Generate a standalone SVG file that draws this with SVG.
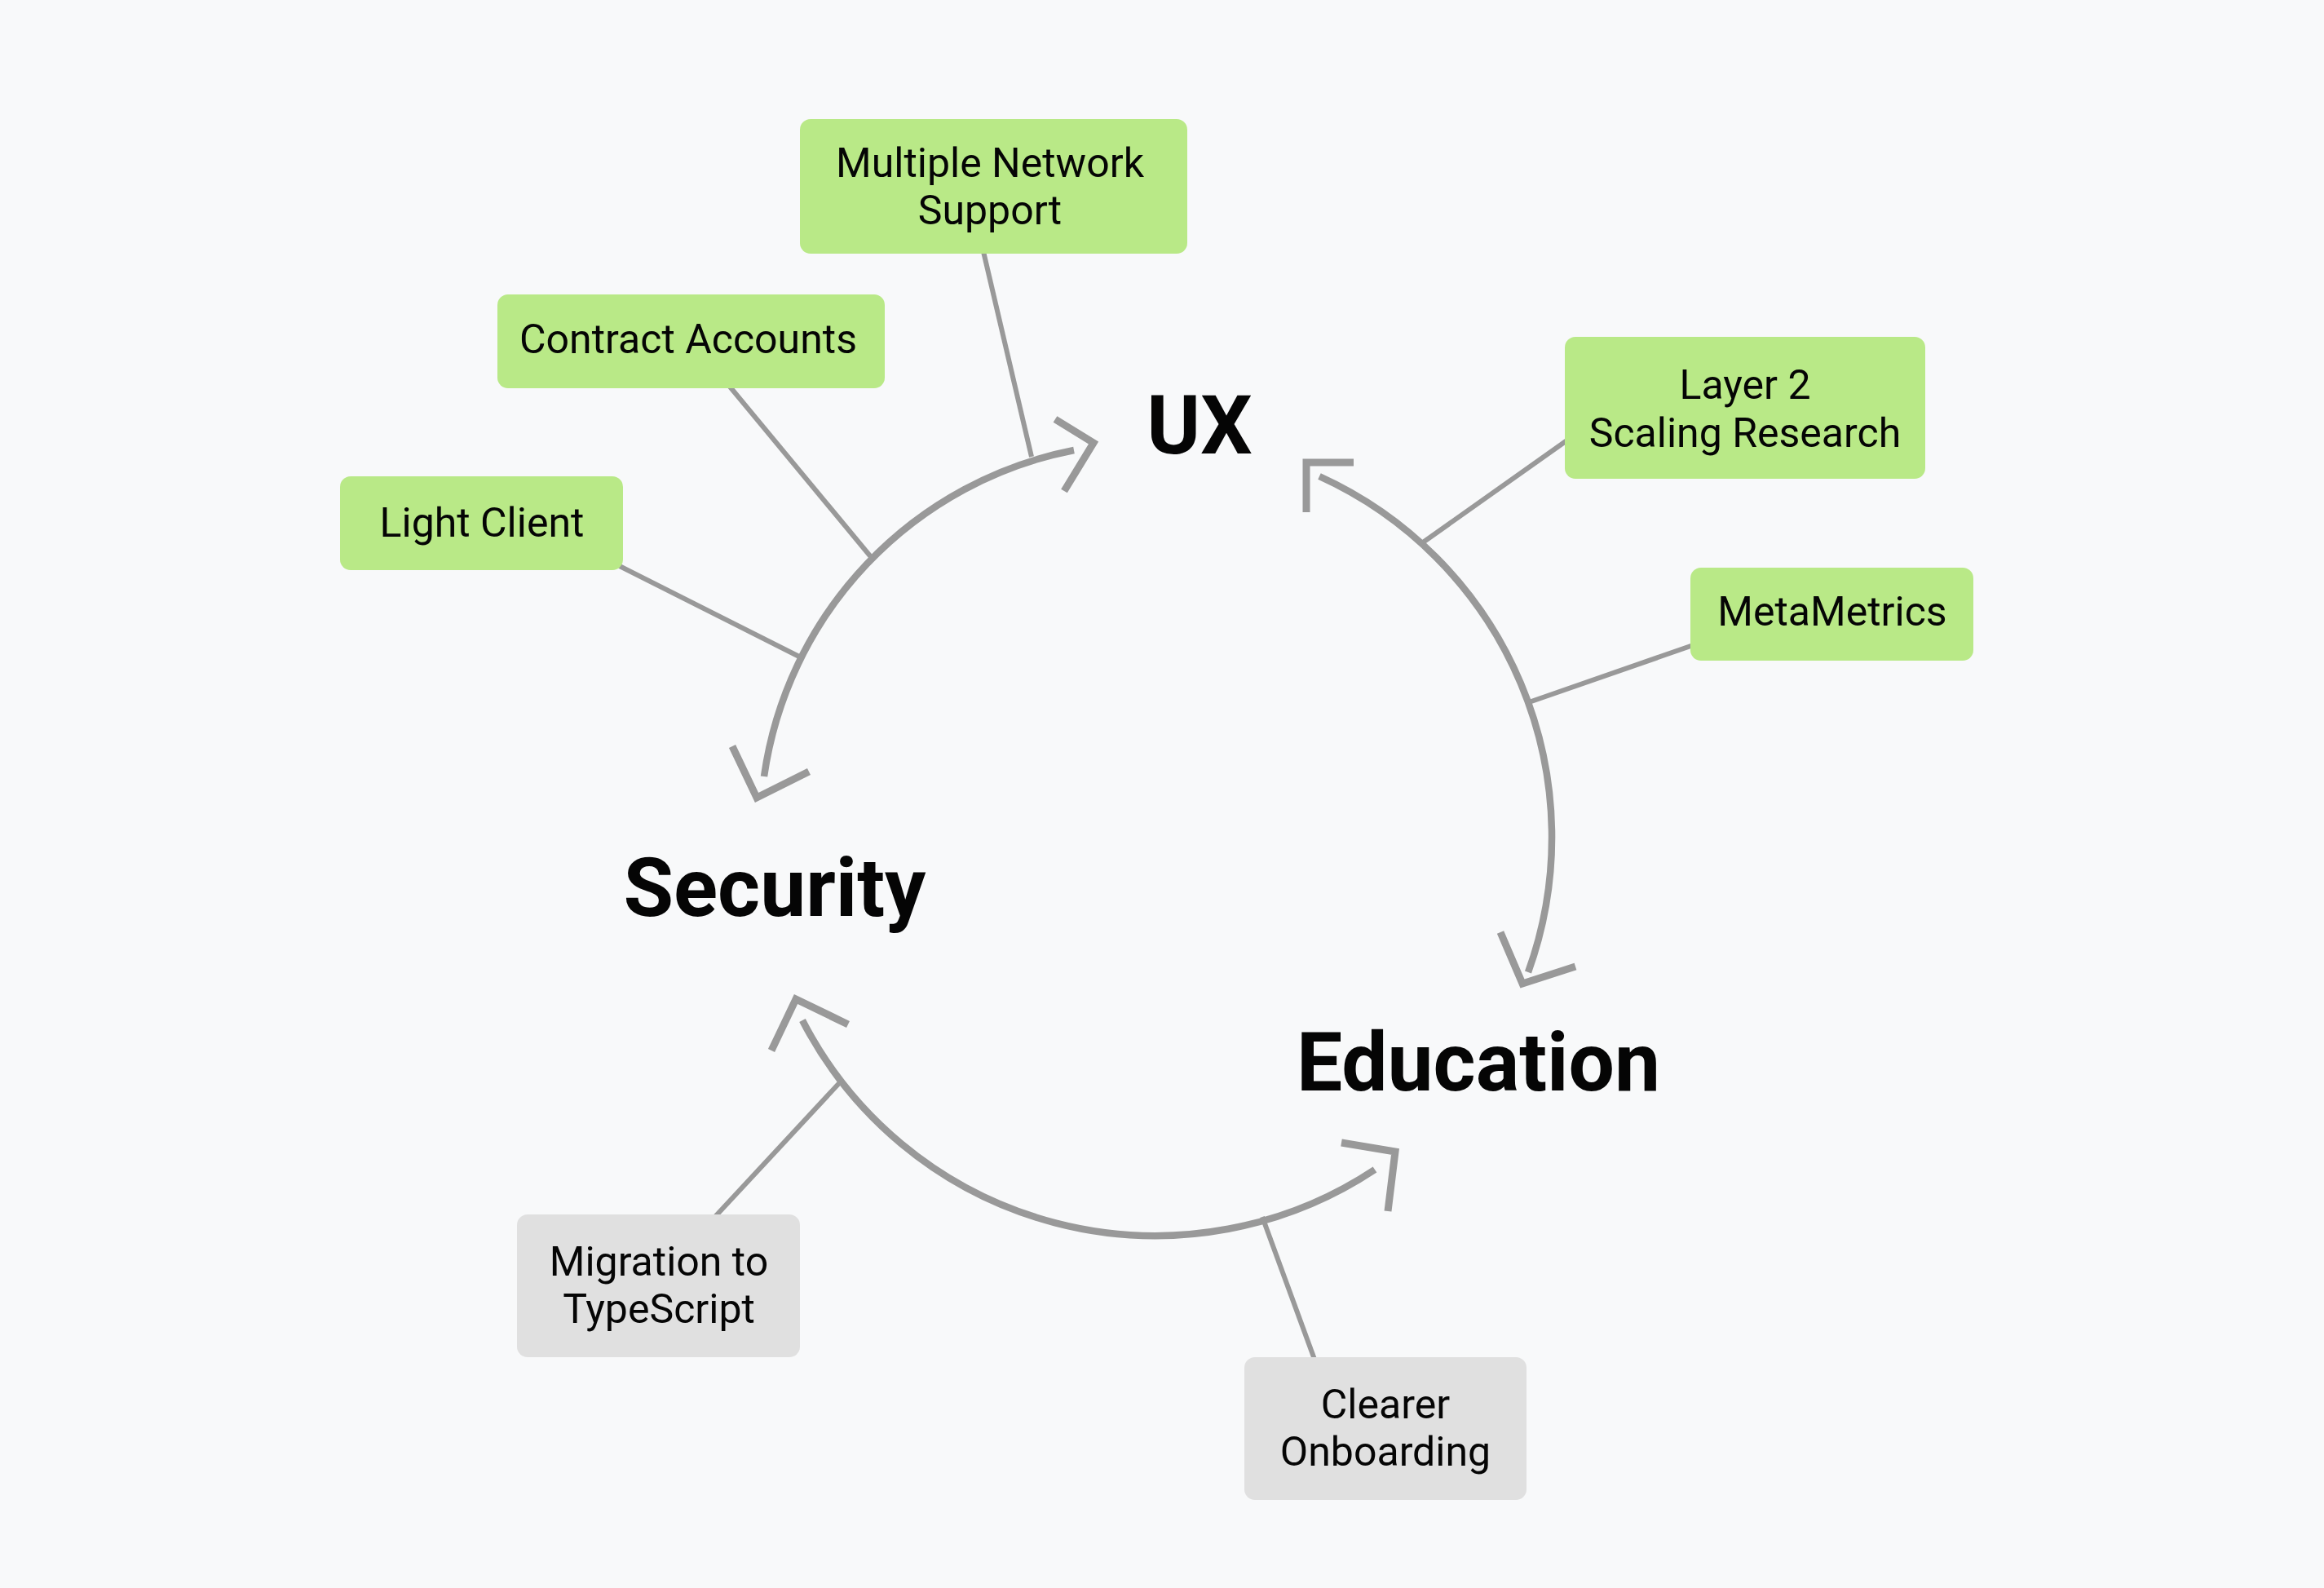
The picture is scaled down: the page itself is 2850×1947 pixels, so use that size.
<svg xmlns="http://www.w3.org/2000/svg" width="2850" height="1947" viewBox="0 0 2850 1947">
  <style>
    .bg { fill: #f8f9fa; }
    .topic rect { fill: #b9e987; }
    .todo rect { fill: #e0e0e0; }
    .node text { font-family: Roboto, "Liberation Sans", sans-serif; font-size: 50px; fill: #050505; text-anchor: middle; }
    .pillar text { font-family: Roboto, "Liberation Sans", sans-serif; font-size: 100px; font-weight: 700; fill: #050505; text-anchor: middle; }
    .cycle { fill: none; stroke: #999999; stroke-width: 8.5; }
    .head { fill: none; stroke: #999999; stroke-width: 9; stroke-linejoin: miter; stroke-linecap: butt; }
    .link { fill: none; stroke: #999999; stroke-width: 6; }
  </style>

  <rect class="bg" x="0" y="0" width="2850" height="1947"/>

  <!-- cycle arcs, branch lines and arrowheads -->
  <g id="connectors">
    <!-- Security -> UX -->
    <path class="cycle" d="M 937 952 A 476 476 0 0 1 1317 552"/>
    <polyline class="head" points="1294,514 1341,543 1305,602"/>
    <polyline class="head" points="898,915 928,978 992,946"/>

    <!-- UX -> Education -->
    <path class="cycle" d="M 1618 584 A 486 486 0 0 1 1874 1192"/>
    <polyline class="head" points="1660,567 1602,567 1602,628"/>
    <polyline class="head" points="1840,1143 1867,1206 1932,1185"/>

    <!-- Education -> Security -->
    <path class="cycle" d="M 984 1251 A 487 487 0 0 0 1686 1434"/>
    <polyline class="head" points="946,1288 976,1225 1040,1256"/>
    <polyline class="head" points="1645,1401 1711,1412 1702,1485"/>

    <!-- branch lines from the nodes to the arcs -->
    <line class="link" x1="1204" y1="300" x2="1265" y2="560"/>
    <line class="link" x1="890" y1="468" x2="1069" y2="684"/>
    <line class="link" x1="752" y1="690" x2="982" y2="806"/>
    <line class="link" x1="1930" y1="534" x2="1745" y2="665"/>
    <line class="link" x1="2085" y1="788" x2="1875" y2="861"/>
    <line class="link" x1="1031" y1="1326" x2="872" y2="1497"/>
    <line class="link" x1="1548" y1="1492" x2="1614" y2="1672"/>
  </g>

  <g id="multiple-network-support" class="node topic">
    <rect x="981" y="146" width="475" height="165" rx="13"/>
    <text x="1214" y="217">Multiple Network</text>
    <text x="1214" y="275">Support</text>
  </g>

  <g id="contract-accounts" class="node topic">
    <rect x="610" y="361" width="475" height="115" rx="13"/>
    <text x="844" y="433">Contract Accounts</text>
  </g>

  <g id="light-client" class="node topic">
    <rect x="417" y="584" width="347" height="115" rx="13"/>
    <text x="591" y="658">Light Client</text>
  </g>

  <g id="layer-2-scaling-research" class="node topic">
    <rect x="1919" y="413" width="442" height="174" rx="13"/>
    <text x="2140" y="489">Layer 2</text>
    <text x="2140" y="548">Scaling Research</text>
  </g>

  <g id="metametrics" class="node topic">
    <rect x="2073" y="696" width="347" height="114" rx="13"/>
    <text x="2247" y="767">MetaMetrics</text>
  </g>

  <g id="migration-to-typescript" class="node todo">
    <rect x="634" y="1489" width="347" height="175" rx="13"/>
    <text x="808" y="1564">Migration to</text>
    <text x="808" y="1622">TypeScript</text>
  </g>

  <g id="clearer-onboarding" class="node todo">
    <rect x="1526" y="1664" width="346" height="175" rx="13"/>
    <text x="1699" y="1739">Clearer</text>
    <text x="1699" y="1797">Onboarding</text>
  </g>

  <g id="ux" class="pillar">
    <text x="1471" y="556">UX</text>
  </g>

  <g id="security" class="pillar">
    <text x="950" y="1123">Security</text>
  </g>

  <g id="education" class="pillar">
    <text x="1813" y="1337">Education</text>
  </g>
</svg>
